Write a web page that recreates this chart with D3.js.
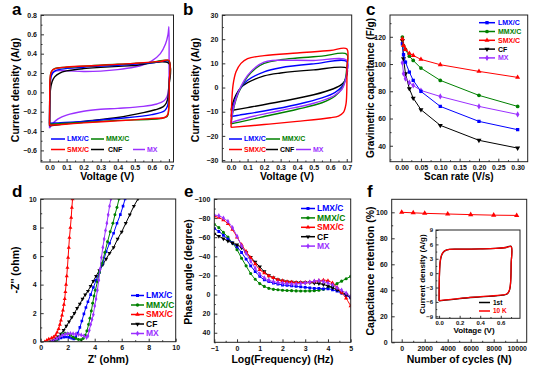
<!DOCTYPE html>
<html><head><meta charset="utf-8">
<script src="https://cdn.jsdelivr.net/npm/d3@7"></script>
<style>body{margin:0;background:#fff}svg{display:block}</style>
</head><body><svg id="c" width="554" height="370"></svg>
<script>
// ---------- DATA ----------
const names = ["LMX/C","MMX/C","SMX/C","CF","MX"];
const namesA = ["LMX/C","MMX/C","SMX/C","CNF","MX"];
// panel a: CV loops [V, A/g]
const aLMX = [[0,-0.32],[0.001,-0.1],[0.003,0.05],[0.01,0.17],[0.03,0.22],[0.07,0.24],[0.2,0.26],[0.4,0.28],[0.6,0.305],[0.7,0.32],[0.701,0.1],[0.699,-0.05],[0.692,-0.14],[0.675,-0.19],[0.6,-0.23],[0.4,-0.27],[0.2,-0.3],[0.05,-0.315],[0,-0.32]];
const aMMX = [[0,-0.33],[0.001,-0.05],[0.003,0.12],[0.01,0.21],[0.03,0.245],[0.1,0.26],[0.4,0.29],[0.6,0.31],[0.7,0.325],[0.702,0.1],[0.701,-0.1],[0.698,-0.2],[0.69,-0.25],[0.65,-0.27],[0.4,-0.29],[0.2,-0.31],[0.05,-0.325],[0,-0.33]];
const aSMX = [[0,-0.34],[0.001,-0.05],[0.003,0.14],[0.008,0.2],[0.02,0.235],[0.05,0.252],[0.1,0.262],[0.3,0.28],[0.5,0.3],[0.65,0.32],[0.7,0.332],[0.702,0.1],[0.702,-0.05],[0.699,-0.16],[0.693,-0.23],[0.675,-0.26],[0.6,-0.27],[0.4,-0.295],[0.2,-0.315],[0.05,-0.335],[0,-0.34]];
const aCNF = [[0,-0.345],[0.002,-0.1],[0.005,0.02],[0.015,0.11],[0.03,0.16],[0.06,0.2],[0.1,0.222],[0.2,0.245],[0.3,0.258],[0.5,0.278],[0.7,0.3],[0.699,0.05],[0.695,-0.05],[0.685,-0.11],[0.665,-0.15],[0.62,-0.18],[0.55,-0.21],[0.4,-0.26],[0.2,-0.3],[0.05,-0.335],[0,-0.345]];
const aMX = [[0,-0.37],[0.002,-0.1],[0.006,0.12],[0.015,0.2],[0.04,0.222],[0.1,0.222],[0.2,0.216],[0.3,0.22],[0.4,0.235],[0.5,0.262],[0.55,0.285],[0.6,0.325],[0.65,0.4],[0.68,0.5],[0.695,0.6],[0.7,0.68],[0.701,0.3],[0.699,0.05],[0.69,-0.04],[0.67,-0.09],[0.63,-0.12],[0.55,-0.145],[0.4,-0.165],[0.3,-0.175],[0.2,-0.195],[0.1,-0.235],[0.05,-0.275],[0.02,-0.32],[0,-0.37]];
// panel b: CV loops at high scan rate [V, A/g]
const bLMX = [[0,-12],[0.01,-8.5],[0.03,-4],[0.06,0],[0.1,3],[0.2,6.5],[0.3,8.2],[0.5,9.8],[0.7,10.8],[0.7,6],[0.69,3],[0.67,0.3],[0.63,-2],[0.55,-4.3],[0.4,-7],[0.2,-9.7],[0.05,-11.4],[0,-12]];
const bMMX = [[0,-15],[0.01,-10.5],[0.03,-5],[0.06,0],[0.1,4.5],[0.15,8],[0.2,10],[0.3,11.5],[0.4,12.2],[0.55,13],[0.7,13.8],[0.7,8],[0.69,3],[0.67,-0.5],[0.63,-3.5],[0.55,-6.3],[0.4,-9],[0.2,-12],[0.05,-14.3],[0,-15]];
const bSMX = [[0,-16.5],[0.003,-8],[0.012,1],[0.03,6.5],[0.06,10],[0.1,12],[0.2,13.2],[0.4,14.3],[0.6,15.3],[0.7,16],[0.701,8],[0.7,-2],[0.695,-7],[0.68,-10.3],[0.65,-11.8],[0.6,-12.5],[0.4,-14],[0.2,-15.3],[0,-16.5]];
const bCF = [[0,-9.5],[0.01,-6.5],[0.03,-3],[0.06,0],[0.1,2],[0.2,4.8],[0.3,6],[0.5,7.3],[0.7,8],[0.7,5],[0.69,3],[0.67,1.3],[0.62,-0.5],[0.5,-3],[0.3,-5.8],[0.1,-8.3],[0,-9.5]];
const bMX = [[0,-14.5],[0.01,-10],[0.03,-4.5],[0.06,0.5],[0.1,5],[0.15,8.5],[0.2,10.5],[0.25,11.2],[0.3,11.3],[0.5,11.2],[0.7,11.3],[0.7,6],[0.69,2.5],[0.67,-0.8],[0.62,-3.5],[0.5,-6.5],[0.3,-9.5],[0.1,-12.5],[0,-14.5]];
// panel c: capacitance vs scan rate
const scanRate = [0.002,0.005,0.01,0.02,0.03,0.05,0.1,0.2,0.3];
const cLMX = [114.9,106.8,101.4,94.1,88.0,79.9,68.9,57.9,51.8];
const cMMX = [119.8,113.6,110.7,105.8,102.6,97.0,88.0,77.0,68.9];
const cSMX = [118.5,113.6,110.7,107.8,106.3,103.4,99.5,94.6,90.2];
const cCF  = [117.3,103.9,92.9,81.9,75.0,66.5,55.0,44.0,38.3];
const cMX  = [100.9,92.9,89.2,86.3,84.3,80.6,76.2,68.9,63.0];
// panel d: Nyquist [Z', -Z'']
const dLMX = [[0.95,0],[1.1,0.08],[1.3,0.18],[1.5,0.27],[1.7,0.32],[1.9,0.33],[2.1,0.3],[2.3,0.24],[2.45,0.2],[2.6,0.35],[2.75,0.6],[2.9,1.0],[3.05,1.45],[3.2,1.95],[3.35,2.4],[3.5,2.8],[3.7,3.3],[3.9,3.8],[4.1,4.3],[4.35,4.85],[4.6,5.5],[4.85,6.3],[5.1,6.9],[5.4,7.6],[5.65,8.3],[5.9,8.9],[6.1,9.5],[6.25,10]];
const dMMX = [[1.05,0],[1.2,0.12],[1.4,0.35],[1.6,0.55],[1.8,0.6],[2.0,0.55],[2.2,0.45],[2.4,0.32],[2.6,0.22],[2.8,0.15],[3.0,0.13],[3.15,0.22],[3.3,0.45],[3.42,0.75],[3.55,1.2],[3.65,1.65],[3.75,2.15],[3.85,2.7],[3.95,3.2],[4.05,3.6],[4.2,4.2],[4.35,4.85],[4.55,5.5],[4.75,6.25],[4.95,7.0],[5.15,7.7],[5.35,8.3],[5.5,8.9],[5.65,9.4],[5.8,10]];
const dSMX = [[0.3,0],[0.45,0.1],[0.6,0.18],[0.8,0.25],[0.95,0.32],[1.1,0.45],[1.22,0.65],[1.33,0.9],[1.42,1.2],[1.5,1.5],[1.58,1.85],[1.65,2.2],[1.72,2.6],[1.78,3.0],[1.83,3.5],[1.88,4.0],[1.93,4.6],[1.98,5.2],[2.03,5.9],[2.08,6.6],[2.13,7.3],[2.2,8.0],[2.26,8.7],[2.31,9.4],[2.36,10]];
const dCF  = [[0.7,0],[0.85,0.05],[1.0,0.12],[1.15,0.22],[1.3,0.35],[1.5,0.55],[1.7,0.8],[1.9,1.1],[2.1,1.4],[2.3,1.7],[2.5,2.0],[2.7,2.35],[2.9,2.65],[3.1,3.0],[3.3,3.3],[3.5,3.55],[3.7,3.9],[3.9,4.25],[4.1,4.6],[4.35,5.0],[4.6,5.4],[4.85,5.8],[5.1,6.2],[5.4,6.6],[5.7,7.2],[6.0,7.7],[6.3,8.3],[6.6,8.9],[6.9,9.5],[7.2,10]];
const dMX  = [[0.8,0],[1.0,0.1],[1.2,0.22],[1.4,0.35],[1.6,0.45],[1.8,0.52],[2.0,0.56],[2.2,0.57],[2.4,0.56],[2.6,0.53],[2.8,0.5],[3.0,0.47],[3.2,0.4],[3.4,0.3],[3.5,0.4],[3.6,0.8],[3.7,1.2],[3.8,1.55],[3.9,1.9],[4.0,2.5],[4.1,3.0],[4.2,3.6],[4.3,4.3],[4.4,5.1],[4.5,5.9],[4.6,6.6],[4.7,7.2],[4.8,7.8],[4.9,8.3],[5.0,8.9],[5.1,9.5],[5.2,10]];
// panel e: phase angle vs log f
const logF = [-1,-0.8,-0.6,-0.4,-0.2,0,0.2,0.4,0.6,0.8,1.0,1.2,1.4,1.6,1.8,2.0,2.2,2.4,2.6,2.8,3.0,3.2,3.4,3.6,3.8,4.0,4.2,4.4,4.6,4.8,5.0];
const eLMX = [-69,-66,-62,-58,-54,-50,-44,-37,-30,-24,-19,-15.5,-13.5,-12,-11,-10,-9.5,-9,-8.5,-8,-7.5,-7,-6.5,-6.5,-6,-6,-5,-3.5,-1.5,1,3.5];
const eMMX = [-73.5,-70,-65,-60,-54,-47,-38,-30,-22,-16,-11.5,-8.5,-6.5,-5.5,-5,-4.5,-4.2,-4,-3.8,-3.7,-3.7,-3.8,-4,-4.5,-5.5,-7,-9,-11.5,-14,-16.5,-19];
const eSMX = [-82,-80.5,-78,-74,-68,-60,-52,-45,-38.5,-32,-26,-22.5,-19.5,-17.5,-15.5,-14.5,-13.5,-13,-12.5,-12.5,-12.5,-13,-14,-14.5,-15,-14.5,-12,-7.5,-2,4,12];
const eCF  = [-63.5,-61,-58.5,-56,-54,-52,-49,-44,-39,-34,-29,-24,-20,-17.5,-15.5,-14.5,-13.5,-13,-12.5,-12.5,-12.5,-12.5,-12,-11.5,-10.5,-9,-7,-5,-2.5,0,3];
const eMX  = [-83,-82.5,-80,-76.5,-70,-61,-51,-43,-35,-27.5,-21.5,-17.5,-15,-13.5,-12.5,-12,-11.5,-11,-11,-11.5,-12,-13,-14,-14.5,-13.5,-12,-10,-7,-4.5,-1.5,2];
// panel f: retention
const cycles = [0,1000,2000,4000,6000,8000,10000];
const retention = [100,99.6,99.2,98.7,98.2,97.8,97.6];
const inset1st = [[0,-5.8],[0.001,-3],[0.004,0],[0.01,2.2],[0.02,3.4],[0.035,4.2],[0.06,4.7],[0.1,4.95],[0.2,5.0],[0.4,5.05],[0.55,5.15],[0.65,5.35],[0.7,5.6],[0.701,2],[0.698,-1],[0.692,-2.8],[0.682,-3.7],[0.665,-4.3],[0.62,-4.6],[0.4,-4.95],[0.2,-5.3],[0,-5.8]];
const inset10K = [[0,-5.75],[0.001,-3],[0.004,0],[0.01,2.3],[0.02,3.5],[0.035,4.25],[0.06,4.72],[0.1,4.95],[0.2,5.0],[0.4,5.05],[0.55,5.15],[0.65,5.35],[0.7,5.55],[0.701,2],[0.698,-1],[0.692,-2.7],[0.682,-3.65],[0.665,-4.25],[0.62,-4.55],[0.4,-4.9],[0.2,-5.25],[0,-5.75]];

// ---------- DRAW ----------
const FONT = '"Liberation Sans", Arial, Helvetica, sans-serif';
const COL = ["#0000ff","#008000","#ff0000","#000000","#9b30ff"];
const SYM = [d3.symbolSquare, d3.symbolCircle, d3.symbolTriangle, "tdown", d3.symbolDiamond];
const svg = d3.select("#c");

function range(a,b,s){const r=[];for(let v=a;v<=b+1e-9;v+=s)r.push(+v.toFixed(6));return r;}

function panel(o){
  const g = svg.append("g");
  const x = d3.scaleLinear().domain(o.xd).range([o.L,o.R]);
  const y = d3.scaleLinear().domain(o.yd).range([o.B,o.T]);
  const id = "clip"+o.id;
  svg.append("clipPath").attr("id",id).append("rect").attr("x",o.L).attr("y",o.T).attr("width",o.R-o.L).attr("height",o.B-o.T);
  const plot = g.append("g").attr("clip-path",`url(#${id})`);
  const ts = o.ts||7;
  g.append("g").attr("transform",`translate(0,${o.B})`).call(d3.axisBottom(x).tickValues(o.xt).tickFormat(o.xf).tickSize(-(o.tk||3)).tickPadding(o.xpad||3.5));
  if(o.xm) g.append("g").attr("transform",`translate(0,${o.B})`).call(d3.axisBottom(x).tickValues(o.xm).tickFormat("").tickSize(-(o.tk||3)/2));
  g.append("g").attr("transform",`translate(${o.L},0)`).call(d3.axisLeft(y).tickValues(o.yt).tickFormat(o.yf).tickSize(-(o.tk||3)).tickPadding(o.ypad||4));
  if(o.ym) g.append("g").attr("transform",`translate(${o.L},0)`).call(d3.axisLeft(y).tickValues(o.ym).tickFormat("").tickSize(-(o.tk||3)/2));
  g.selectAll(".domain").remove();
  g.selectAll(".tick line").attr("stroke","#000").attr("stroke-width",0.8);
  g.selectAll(".tick text").attr("font-size",ts).attr("font-family",FONT).attr("font-weight","bold").attr("fill","#111");
  g.append("rect").attr("x",o.L).attr("y",o.T).attr("width",o.R-o.L).attr("height",o.B-o.T).attr("fill","none").attr("stroke","#222").attr("stroke-width",1);
  const fs = o.fs||10.5;
  if(o.ytitle) g.append("text").attr("transform",`translate(${o.ytx},${o.yty||(o.T+o.B)/2}) rotate(-90)`).attr("text-anchor","middle").attr("dy","0.35em")
    .attr("font-size",fs).attr("font-family",FONT).attr("font-weight","bold").text(o.ytitle);
  if(o.xtitle) g.append("text").attr("x",o.xtx||(o.L+o.R)/2).attr("y",o.xty).attr("text-anchor","middle")
    .attr("font-size",fs).attr("font-family",FONT).attr("font-weight","bold").text(o.xtitle);
  if(o.letter) svg.append("text").attr("x",o.lx).attr("y",o.ly).attr("font-size",17).attr("font-family",FONT).attr("font-weight","bold").text(o.letter);
  return {x,y,plot,g};
}

function marker(sel, type, size, color, cx, cy){
  if(type==="tdown"){
    sel.append("path").attr("d",d3.symbol().type(d3.symbolTriangle).size(size)()).attr("transform",`translate(${cx},${cy}) rotate(180)`).attr("fill",color);
  } else {
    sel.append("path").attr("d",d3.symbol().type(type).size(size)()).attr("transform",`translate(${cx},${cy})`).attr("fill",color);
  }
}
function legendItem(g, x1, x2, tx, y, color, label, fs, sym, msize){
  g.append("line").attr("x1",x1).attr("x2",x2).attr("y1",y).attr("y2",y).attr("stroke",color).attr("stroke-width",1.5);
  if(sym) marker(g, sym, msize, color, (x1+x2)/2, y);
  g.append("text").attr("x",tx).attr("y",y).attr("dy","0.35em").attr("font-size",fs).attr("font-family",FONT).attr("font-weight","bold").attr("fill",color).text(label);
}
const fmt1 = d=>d3.format(".1f")(d);

// ---- panel a ----
{
  const p = panel({id:"a",L:41,R:173.5,T:15,B:162,xd:[-0.05,0.727],yd:[-0.72,0.8],
    xt:range(0,0.7,0.1),xm:range(0.05,0.65,0.1),xf:fmt1,yt:range(-0.6,0.8,0.2),ym:range(-0.7,0.7,0.2),yf:fmt1,
    ytitle:"Current density (A/g)",ytx:15,yty:90,xtitle:"Voltage (V)",xty:180,letter:"a",lx:12,ly:15});
  const line = d3.line().x(d=>p.x(d[0])).y(d=>p.y(d[1])).curve(d3.curveCatmullRom.alpha(0.5));
  [aMX,aCNF,aLMX,aMMX,aSMX].forEach((s,i)=>{
    const ci=[4,3,0,1,2][i];
    p.plot.append("path").datum(s).attr("d",line).attr("fill","none").attr("stroke",COL[ci]).attr("stroke-width",1.4);
  });
  legendItem(p.g,51,65,67,139,COL[0],namesA[0],7);
  legendItem(p.g,91,104,106,139,COL[1],namesA[1],7);
  legendItem(p.g,51,65,67,149.5,COL[2],namesA[2],7);
  legendItem(p.g,91,104,108,149.5,COL[3],namesA[3],7);
  legendItem(p.g,133,145,147,149.5,COL[4],namesA[4],7);
}
// ---- panel b ----
{
  const p = panel({id:"b",L:222.3,R:351.7,T:15,B:162,xd:[-0.053,0.73],yd:[-30.8,30],
    xt:range(0,0.7,0.1),xm:range(0.05,0.65,0.1),xf:fmt1,yt:range(-30,30,10),ym:range(-25,25,10),yf:d3.format("d"),
    ytitle:"Current density (A/g)",ytx:195,yty:90,xtitle:"Voltage (V)",xty:180,letter:"b",lx:183,ly:15});
  const line = d3.line().x(d=>p.x(d[0])).y(d=>p.y(d[1])).curve(d3.curveCatmullRom.alpha(0.5));
  [bCF,bLMX,bMMX,bMX,bSMX].forEach((s,i)=>{
    const ci=[3,0,1,4,2][i];
    p.plot.append("path").datum(s).attr("d",line).attr("fill","none").attr("stroke",COL[ci]).attr("stroke-width",1.4);
  });
  legendItem(p.g,229,242,244,139,COL[0],namesA[0],7);
  legendItem(p.g,266,280,282,139,COL[1],namesA[1],7);
  legendItem(p.g,229,242,244,149.5,COL[2],namesA[2],7);
  legendItem(p.g,266,278,280,149.5,COL[3],namesA[3],7);
  legendItem(p.g,296,311,313,149.5,COL[4],namesA[4],7);
}
// ---- panel c ----
{
  const p = panel({id:"c",L:390,R:527.7,T:15,B:161.7,xd:[-0.03,0.326],yd:[28.3,136],
    xt:range(0,0.3,0.05),xm:range(0.025,0.275,0.05),xf:d3.format(".2f"),yt:range(40,120,20),ym:range(30,130,10).filter(v=>v%20!==0),yf:d3.format("d"),
    ytitle:"Gravimetric capacitance (F/g)",ytx:370,yty:88,fs:10,xtitle:"Scan rate (V/s)",xty:180,letter:"c",lx:366,ly:15});
  const sets=[cLMX,cMMX,cSMX,cCF,cMX];
  const line = d3.line().x(d=>p.x(d[0])).y(d=>p.y(d[1]));
  [3,4,0,1,2].forEach(i=>{
    const pts = scanRate.map((r,k)=>[r,sets[i][k]]);
    p.plot.append("path").datum(pts).attr("d",line).attr("fill","none").attr("stroke",COL[i]).attr("stroke-width",1);
    pts.forEach(d=>marker(p.plot,SYM[i],11,COL[i],p.x(d[0]),p.y(d[1])));
  });
  names.forEach((n,i)=>legendItem(p.g,479,495,498,22.7+i*8.8,COL[i],n,7,SYM[i],11));
}
// ---- panel d ----
{
  const p = panel({id:"d",L:40.7,R:175.7,T:199,B:341.7,xd:[0,10],yd:[0,10],
    xt:range(0,10,2),xm:range(1,9,2),xf:d3.format("d"),yt:range(0,10,2),ym:range(1,9,2),yf:d3.format("d"),
    ytitle:"-Z'' (ohm)",ytx:15,yty:270,xtitle:"Z' (ohm)",xty:363,letter:"d",lx:12,ly:197});
  const sets=[dLMX,dMMX,dSMX,dCF,dMX];
  const line = d3.line().x(d=>p.x(d[0])).y(d=>p.y(d[1]));
  [3,0,1,4,2].forEach(i=>{
    p.plot.append("path").datum(sets[i]).attr("d",line).attr("fill","none").attr("stroke",COL[i]).attr("stroke-width",1);
    sets[i].forEach(d=>marker(p.plot,SYM[i],7,COL[i],p.x(d[0]),p.y(d[1])));
  });
  names.forEach((n,i)=>legendItem(p.g,131,144,146,295.5+i*9.5,COL[i],n,8.5,SYM[i],9));
}
// ---- panel e ----
{
  const p = panel({id:"e",L:214.3,R:350.7,T:199,B:342.3,xd:[-1,5],yd:[50,-100],
    xt:range(-1,5,1),xm:range(-0.5,4.5,1),xf:d3.format("d"),yt:range(-100,40,20),ym:range(-90,50,20),yf:d3.format("d"),
    ytitle:"Phase angle (degree)",ytx:188,yty:272,xtitle:"Log(Frequency) (Hz)",xty:363,letter:"e",lx:184,ly:197});
  const sets=[eLMX,eMMX,eSMX,eCF,eMX];
  const line = d3.line().x(d=>p.x(d[0])).y(d=>p.y(d[1])).curve(d3.curveCatmullRom);
  [1,0,3,2,4].forEach(i=>{
    const pts = logF.map((f,k)=>[f,sets[i][k]]);
    p.plot.append("path").datum(pts).attr("d",line).attr("fill","none").attr("stroke",COL[i]).attr("stroke-width",1);
    pts.forEach(d=>marker(p.plot,SYM[i],8,COL[i],p.x(d[0]),p.y(d[1])));
  });
  names.forEach((n,i)=>legendItem(p.g,301,315,317,208.5+i*9.4,COL[i],n,8.5,SYM[i],9));
}
// ---- panel f ----
{
  const p = panel({id:"f",L:391.7,R:526.7,T:199.3,B:342.3,xd:[-870,10870],yd:[0,110],
    xt:range(0,10000,2000),xm:range(1000,9000,2000),xf:d3.format("d"),yt:range(0,100,20),ym:range(10,90,20),yf:d3.format("d"),
    ytitle:"Capacitance retention (%)",ytx:370,yty:271,xtitle:"Number of cycles (N)",xty:363,letter:"f",lx:367,ly:197});
  const pts = cycles.map((c,k)=>[c,retention[k]]);
  p.plot.append("path").datum(pts).attr("d",d3.line().x(d=>p.x(d[0])).y(d=>p.y(d[1]))).attr("fill","none").attr("stroke","#ff0000").attr("stroke-width",1);
  pts.forEach(d=>marker(p.plot,d3.symbolTriangle,12,"#ff0000",p.x(d[0]),p.y(d[1])));
  // inset
  const q = panel({id:"fi",L:436,R:520,T:230,B:318.3,xd:[-0.03,0.787],yd:[-9.42,9],ts:6,tk:2.5,
    xt:range(0,0.6,0.2),xm:range(0.1,0.7,0.2),xf:fmt1,yt:range(-9,9,3),ym:range(-7.5,7.5,3),yf:d3.format("d"),xpad:2.5,ypad:3,
    ytitle:"Current density (A/g)",ytx:422,fs:8,xtitle:"Voltage (V)",xtx:474,xty:333});
  const line = d3.line().x(d=>q.x(d[0])).y(d=>q.y(d[1])).curve(d3.curveCatmullRom.alpha(0.5));
  q.plot.append("path").datum(inset1st).attr("d",line).attr("fill","none").attr("stroke","#000").attr("stroke-width",1.3);
  q.plot.append("path").datum(inset10K).attr("d",line).attr("fill","none").attr("stroke","#ff0000").attr("stroke-width",1.3);
  legendItem(q.g,479,490,493,302.5,"#000","1st",6.5);
  legendItem(q.g,479,490,493,311,"#ff0000","10 K",6.5);
}
</script></body></html>
